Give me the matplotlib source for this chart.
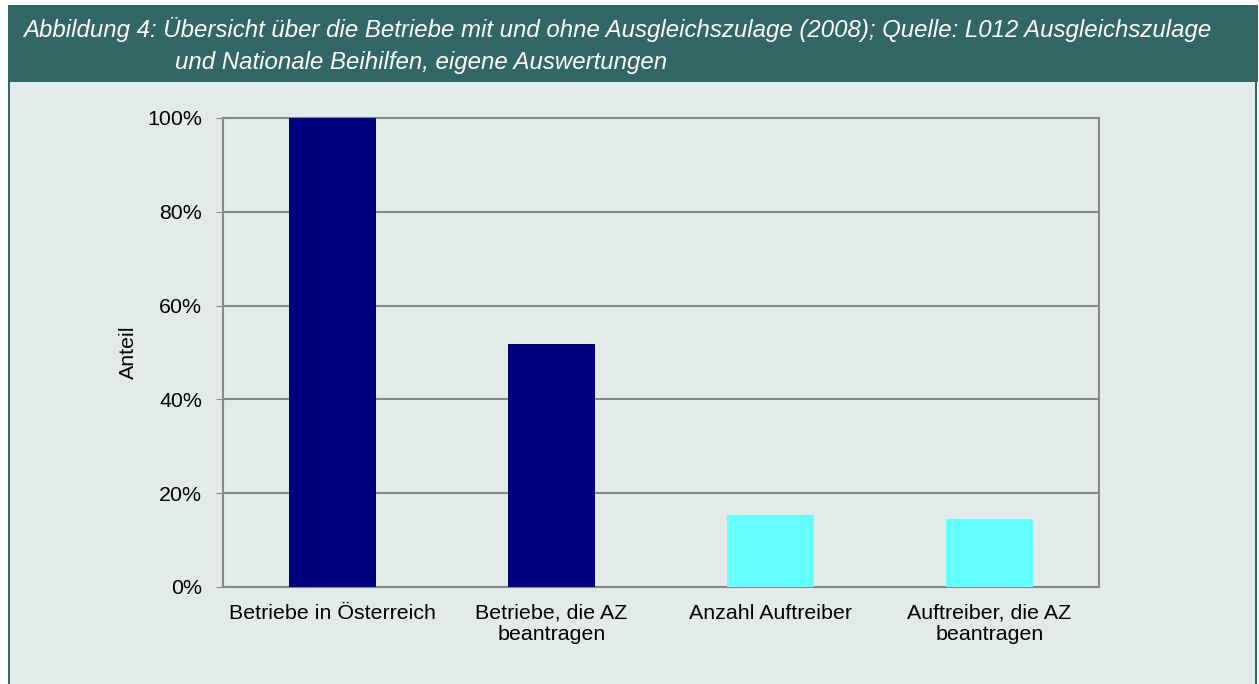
import matplotlib.pyplot as plt
from matplotlib.patches import Rectangle

categories = ["Betriebe in Österreich", "Betriebe, die AZ\nbeantragen",
              "Anzahl Auftreiber", "Auftreiber, die AZ\nbeantragen"]
values = [100, 51.8, 15.4, 14.4]
bar_colors = ["#000080", "#000080", "#66ffff", "#66ffff"]
yticks = [0, 20, 40, 60, 80, 100]
title1 = "Abbildung 4: Übersicht über die Betriebe mit und ohne Ausgleichszulage (2008); Quelle: L012 Ausgleichszulage"
title2 = "und Nationale Beihilfen, eigene Auswertungen"

plt.rcParams["font.family"] = ["Liberation Sans", "DejaVu Sans"]

W, H = 1259, 684
fig = plt.figure(figsize=(W / 100, H / 100), dpi=100)
fig.patch.set_facecolor("white")

teal = "#336666"
bg = "#e2ebea"
# body panel with teal border
fig.patches.append(Rectangle((8 / W, 0), (1257 - 8) / W, (H - 82) / H,
                             transform=fig.transFigure, facecolor=teal,
                             edgecolor="none", zorder=0))
fig.patches.append(Rectangle((10 / W, 0), (1255 - 10) / W, (H - 82) / H,
                             transform=fig.transFigure, facecolor=bg,
                             edgecolor="none", zorder=0))
# header band
fig.patches.append(Rectangle((8 / W, 1 - 82 / H), (1258 - 8) / W, 77 / H,
                             transform=fig.transFigure, facecolor=teal,
                             edgecolor="none", zorder=0))
fig.text(23 / W, 1 - 30 / H, title1, color="white", style="italic",
         fontsize=17.3, ha="left", va="center")
fig.text(175 / W, 1 - 62 / H, title2, color="white", style="italic",
         fontsize=17.3, ha="left", va="center")

ax = fig.add_axes([223 / W, 1 - 587 / H, (1099 - 223) / W, (587 - 118) / H])
ax.set_zorder(5)
ax.set_facecolor(bg)
x = range(len(categories))
ax.bar(x, values, width=0.40, color=bar_colors, zorder=3)
ax.set_xlim(-0.5, len(categories) - 0.5)
ax.set_ylim(0, 100)
ax.set_yticks(yticks)
ax.set_yticklabels([f"{v}%" for v in yticks], fontsize=15.4)
ax.set_xticks(list(x))
ax.set_xticklabels(categories, fontsize=15.4, linespacing=1.15)
ax.tick_params(axis="x", length=0, pad=12)
ax.tick_params(axis="y", length=5, color="#888888", pad=10)
ax.grid(axis="y", color="#888888", linewidth=1.5, zorder=1)
for s in ax.spines.values():
    s.set_color("#888888")
    s.set_linewidth(1.5)
ax.set_ylabel("Anteil", fontsize=15.4, labelpad=7)

fig.savefig("out.png", dpi=100)
